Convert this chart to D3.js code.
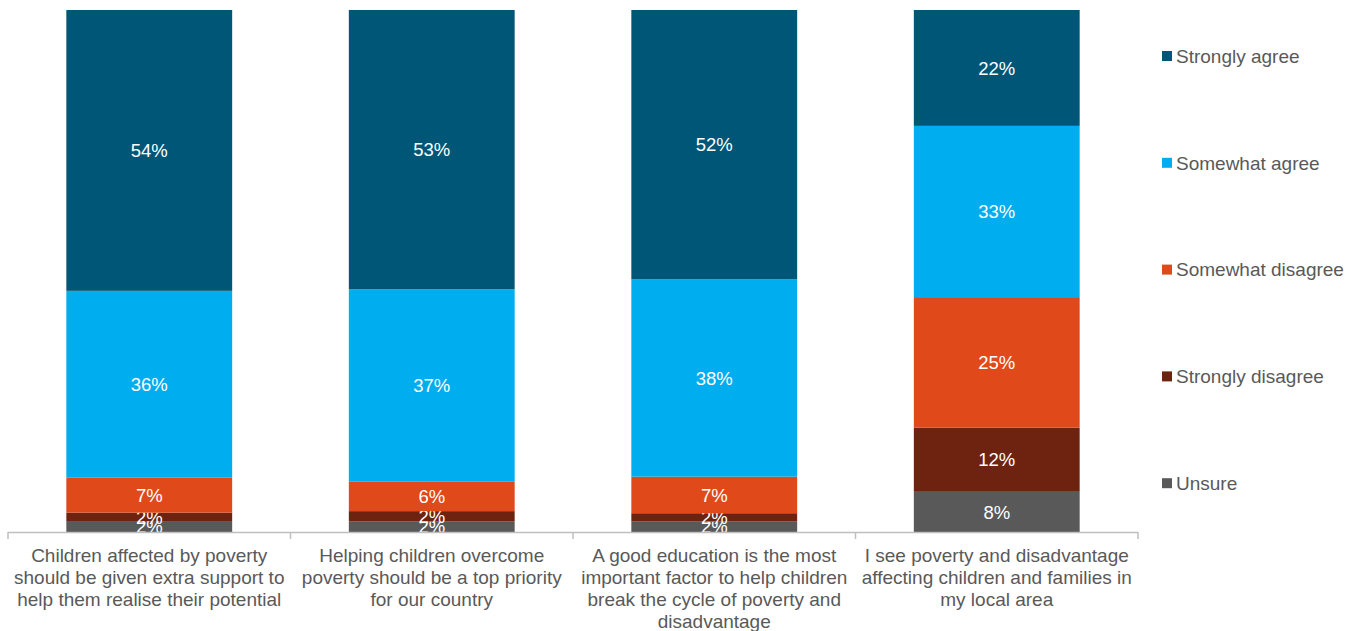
<!DOCTYPE html>
<html><head><meta charset="utf-8">
<script src="https://cdn.jsdelivr.net/npm/d3@7/dist/d3.min.js"></script>
<style>body{margin:0;background:#fff;}svg{display:block;font-family:"Liberation Sans",Arial,sans-serif;}</style>
</head><body><svg id="c" width="1361" height="631"></svg>
<script>
const categories = [
  ["Children affected by poverty","should be given extra support to","help them realise their potential"],
  ["Helping children overcome","poverty should be a top priority","for our country"],
  ["A good education is the most","important factor to help children","break the cycle of poverty and","disadvantage"],
  ["I see poverty and disadvantage","affecting children and families in","my local area"]
];
const seriesNames = ["Unsure","Strongly disagree","Somewhat disagree","Somewhat agree","Strongly agree"];
const unsure           = [2.1, 2.0, 2.0, 7.7];
const stronglyDisagree = [1.6, 2.0, 1.6, 12.3];
const somewhatDisagree = [6.7, 5.7, 7.0, 25.0];
const somewhatAgree    = [35.8, 36.8, 37.8, 32.8];
const stronglyAgree    = [53.8, 53.5, 51.6, 22.2];
const labels = {
  "Unsure": ["2%","2%","2%","8%"],
  "Strongly disagree": ["2%","2%","2%","12%"],
  "Somewhat disagree": ["7%","6%","7%","25%"],
  "Somewhat agree": ["36%","37%","38%","33%"],
  "Strongly agree": ["54%","53%","52%","22%"]
};
const colors = {
  "Strongly agree":"#005677",
  "Somewhat agree":"#00adef",
  "Somewhat disagree":"#e04a1b",
  "Strongly disagree":"#6e2310",
  "Unsure":"#595959"
};
const legendOrder = ["Strongly agree","Somewhat agree","Somewhat disagree","Strongly disagree","Unsure"];

const valuesBySeries = {
  "Unsure": unsure, "Strongly disagree": stronglyDisagree, "Somewhat disagree": somewhatDisagree,
  "Somewhat agree": somewhatAgree, "Strongly agree": stronglyAgree
};
const table = categories.map((c,i)=>{
  const row = {idx:i};
  seriesNames.forEach(s=>row[s]=valuesBySeries[s][i]);
  return row;
});
const stacked = d3.stack().keys(seriesNames).offset(d3.stackOffsetExpand)(table);

const svg = d3.select("#c");
const mLeft = 8, mRight = 1138, mTop = 10, mBottom = 532;
const x = d3.scaleBand().domain(d3.range(categories.length)).range([mLeft,mRight]).paddingInner(0.413).paddingOuter(0.2065);
const y = d3.scaleLinear().domain([0,1]).range([mBottom,mTop]);
const bandOuter = (mRight-mLeft)/categories.length;

const g = svg.append("g");
stacked.forEach(layer=>{
  const key = layer.key;
  const lg = g.append("g");
  lg.selectAll("rect").data(layer).join("rect")
    .attr("x",(d,i)=>x(i)).attr("width",x.bandwidth())
    .attr("y",d=>y(d[1])).attr("height",d=>y(d[0])-y(d[1]))
    .attr("fill",colors[key]);
  lg.selectAll("text").data(layer).join("text")
    .attr("x",(d,i)=>x(i)+x.bandwidth()/2)
    .attr("y",d=>(y(d[0])+y(d[1]))/2)
    .attr("dy","0.36em").attr("text-anchor","middle")
    .attr("fill","#fff").attr("font-size","18.5px")
    .text((d,i)=>labels[key][i]);
});

// axis line and ticks
svg.append("line").attr("x1",mLeft).attr("x2",mRight).attr("y1",mBottom+0.5).attr("y2",mBottom+0.5)
  .attr("stroke","#bfbfbf").attr("stroke-width",1.5);
d3.range(categories.length+1).forEach(i=>{
  const tx = mLeft + i*bandOuter;
  svg.append("line").attr("x1",tx).attr("x2",tx).attr("y1",mBottom).attr("y2",mBottom+7)
    .attr("stroke","#bfbfbf").attr("stroke-width",1.5);
});

// category labels
categories.forEach((lines,i)=>{
  const t = svg.append("text").attr("text-anchor","middle").attr("fill","#595959").attr("font-size","19px");
  lines.forEach((ln,j)=>{
    t.append("tspan").attr("x",x(i)+x.bandwidth()/2).attr("y",562+j*22).text(ln);
  });
});

// legend
const lgd = svg.append("g");
legendOrder.forEach((k,i)=>{
  const ly = 56 + i*106.8;
  lgd.append("rect").attr("x",1162).attr("y",ly-5).attr("width",10).attr("height",10).attr("fill",colors[k]);
  lgd.append("text").attr("x",1176).attr("y",ly).attr("dy","0.36em").attr("fill","#595959")
    .attr("font-size","19px").text(k);
});
</script></body></html>
